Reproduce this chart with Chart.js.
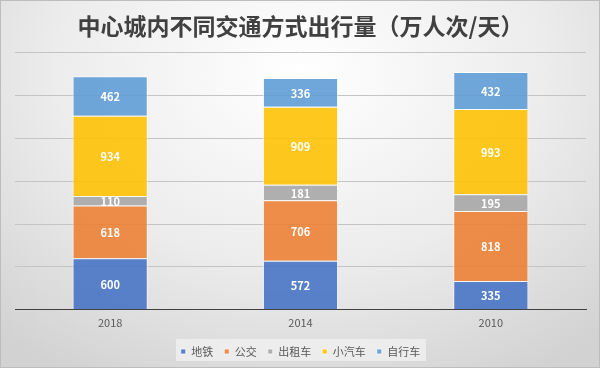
<!DOCTYPE html>
<html lang="zh">
  <head>
    <meta charset="UTF-8" />
    <title>中心城内不同交通方式出行量</title>
    <script src="https://cdn.jsdelivr.net/npm/chart.js"></script>
    <style>
      html, body { margin: 0; padding: 0; background: #fff; }
      .wrap {
        width: 600px;
        height: 368px;
        box-sizing: border-box;
        border: 1px solid #bdbdbd;
        background: radial-gradient(ellipse 75% 95% at 50% 20%, #ffffff 0%, #ececec 55%, #d2d2d2 100%);
      }
      canvas { display: block; }
    </style>
  </head>
  <body>
    <div class="wrap"><canvas id="c" width="598" height="366"></canvas></div>
    <script>
      // data
      const years = ["2018", "2014", "2010"];
      const metro = [600, 572, 335];
      const bus = [618, 706, 818];
      const taxi = [110, 181, 195];
      const car = [934, 909, 993];
      const bike = [462, 336, 432];

      const names = ["地铁", "公交", "出租车", "小汽车", "自行车"];
      const colors = [
        "rgba(68,114,196,0.88)",
        "rgba(237,125,49,0.88)",
        "rgba(165,165,165,0.88)",
        "rgba(255,192,0,0.88)",
        "rgba(91,155,213,0.88)",
      ];

      const font = "'Noto Sans CJK SC', 'Noto Sans', sans-serif";

      // white value labels in the middle of each segment
      const valueLabels = {
        id: "valueLabels",
        afterDatasetsDraw(chart) {
          const ctx = chart.ctx;
          ctx.save();
          ctx.fillStyle = "#ffffff";
          ctx.font = "bold 11px " + font;
          ctx.textAlign = "center";
          ctx.textBaseline = "middle";
          chart.data.datasets.forEach((ds, i) => {
            chart.getDatasetMeta(i).data.forEach((bar, j) => {
              ctx.fillText(ds.data[j], bar.x, (bar.y + bar.base) / 2 + 1);
            });
          });
          ctx.restore();
        },
      };

      // light box behind the legend
      const legendBox = {
        id: "legendBox",
        beforeDraw(chart) {
          const lg = chart.legend;
          if (!lg) return;
          const ctx = chart.ctx;
          ctx.save();
          ctx.fillStyle = "rgba(240,240,240,0.8)";
          ctx.fillRect(175, 338, 250, 22);
          ctx.restore();
        },
      };

      new Chart(document.getElementById("c"), {
        type: "bar",
        data: {
          labels: years,
          datasets: [metro, bus, taxi, car, bike].map((d, i) => ({
            label: names[i],
            data: d,
            backgroundColor: colors[i],
            borderColor: "rgba(255,255,255,0.7)",
            borderWidth: 1,
            categoryPercentage: 1,
            barPercentage: 0.395,
          })),
        },
        options: {
          responsive: false,
          animation: false,
          layout: { padding: { left: 14, right: 13, top: 11, bottom: 0 } },
          plugins: {
            title: {
              display: true,
              text: "中心城内不同交通方式出行量（万人次/天）",
              color: "#404040",
              font: { family: font, size: 23, weight: "bold" },
              padding: { top: 0, bottom: 13 },
            },
            legend: {
              position: "bottom",
              labels: {
                color: "#595959",
                font: { family: font, size: 11 },
                boxWidth: 5,
                boxHeight: 5,
                padding: 11,
              },
            },
            tooltip: { enabled: false },
          },
          scales: {
            x: {
              stacked: true,
              grid: { display: false, drawTicks: false },
              border: { display: true, color: "#404040", width: 1 },
              ticks: { color: "#595959", font: { family: font, size: 11 }, padding: 6 },
            },
            y: {
              stacked: true,
              min: 0,
              max: 3000,
              grid: { color: "#c4c4c4", lineWidth: 1, drawTicks: false },
              border: { display: false },
              ticks: { display: false, stepSize: 500 },
            },
          },
        },
        plugins: [legendBox, valueLabels],
      });
    </script>
  </body>
</html>
